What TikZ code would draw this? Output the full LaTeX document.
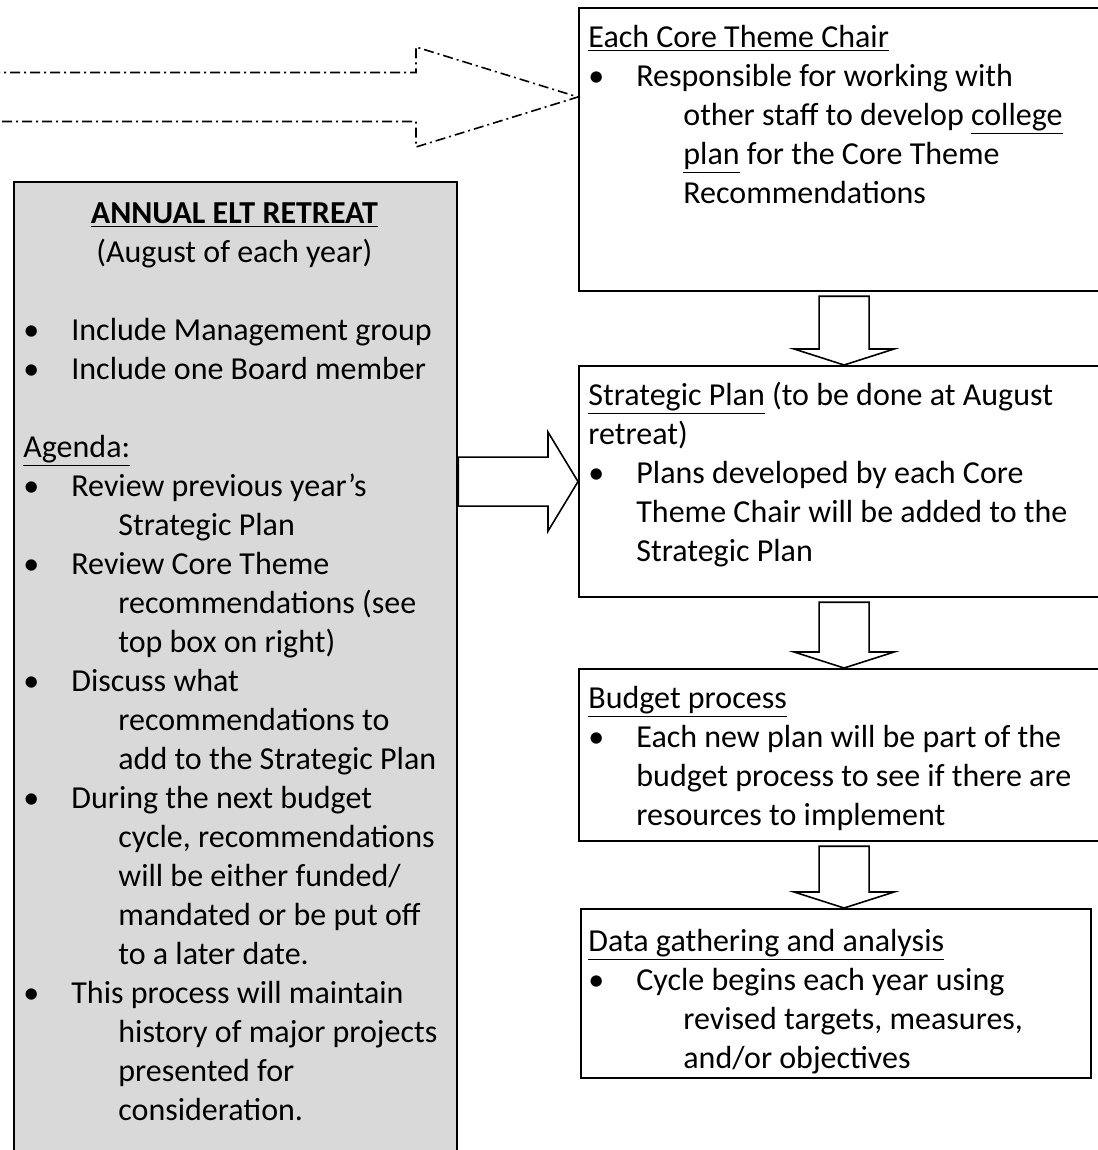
\documentclass[tikz,border=0pt]{standalone}
\usepackage{fontspec}
\setmainfont{Carlito}
\usetikzlibrary{calc}
\definecolor{retreatgrey}{HTML}{D9D9D9}
\tikzset{
  box/.style={draw, line width=1.1pt, rectangle, inner sep=0pt, anchor=north west},
  boxtext/.style={anchor=north west, inner sep=0pt, align=left, font=\fontsize{16}{19.5}\selectfont},
  blockarrow/.style={draw, fill=white, line width=0.8pt, line join=miter},
  dasharrow/.style={line width=0.8pt, dash pattern=on 5pt off 2pt on 1pt off 2pt},
}
% one bullet line, a hanging line, a line level with the bullet text
\newcommand{\bitem}[1]{\strut\makebox[24pt][l]{\textbullet}#1}
\newcommand{\contline}[1]{\strut\hspace{47.5pt}#1}
\newcommand{\sameline}[1]{\strut\hspace{24pt}#1}
% hollow arrow pointing down from one box to the next
\newcommand{\downblock}[2]{%
  \draw[blockarrow] let \p1=(#1.south), \p2=(#2.north) in
    (\x1-12.5pt,\y1-2pt) -- (\x1+12.5pt,\y1-2pt) -- (\x1+12.5pt,\y2+8pt)
    -- (\x1+25pt,\y2+8pt) -- (\x1,\y2) -- (\x1-25pt,\y2+8pt)
    -- (\x1-12.5pt,\y2+8pt) -- cycle;}

\begin{document}
\begin{tikzpicture}[x=0.5pt, y=-0.5pt]
    \useasboundingbox (0,0) rectangle (1097,1150);

    % Boxes
    \node[box, fill=retreatgrey, minimum width=221.5pt, minimum height=494.5pt] (retreat) at (13,181) {};
    \node[box, minimum width=265pt, minimum height=141.5pt] (chair) at (578,7) {};
    \node[box, minimum width=265pt, minimum height=115.5pt] (plan) at (578,365) {};
    \node[box, minimum width=265pt, minimum height=86pt] (budget) at (578,668) {};
    \node[box, minimum width=255pt, minimum height=84.5pt] (data) at (580,908) {};

    % Texts
    \node[boxtext] (retreattext) at ($(retreat.north west)+(10,14.7)$) {%
        \strut\makebox[211pt]{\textbf{\underline{ANNUAL ELT RETREAT}}}\\
        \strut\makebox[211pt]{(August of each year)}\\
        \strut\\
        \bitem{Include Management group}\\
        \bitem{Include one Board member}\\
        \strut\\
        \strut\underline{Agenda:}\\
        \bitem{Review previous year’s}\\
        \contline{Strategic Plan}\\
        \bitem{Review Core Theme}\\
        \contline{recommendations (see}\\
        \contline{top box on right)}\\
        \bitem{Discuss what}\\
        \contline{recommendations to}\\
        \contline{add to the Strategic Plan}\\
        \bitem{During the next budget}\\
        \contline{cycle, recommendations}\\
        \contline{will be either funded/}\\
        \contline{mandated or be put off}\\
        \contline{to a later date.}\\
        \bitem{This process will maintain}\\
        \contline{history of major projects}\\
        \contline{presented for}\\
        \contline{consideration.}};
    \node[boxtext] (chairtext) at ($(chair.north west)+(10,12.7)$) {%
        \strut\underline{Each Core Theme Chair}\\
        \bitem{Responsible for working with}\\
        \contline{other staff to develop \underline{college}}\\
        \contline{\underline{plan} for the Core Theme}\\
        \contline{Recommendations}};
    \node[boxtext] (plantext) at ($(plan.north west)+(10,12.7)$) {%
        \strut\underline{Strategic Plan} (to be done at August\\
        \strut retreat)\\
        \bitem{Plans developed by each Core}\\
        \sameline{Theme Chair will be added to the}\\
        \sameline{Strategic Plan}};
    \node[boxtext] (budgettext) at ($(budget.north west)+(10,12.7)$) {%
        \strut\underline{Budget process}\\
        \bitem{Each new plan will be part of the}\\
        \sameline{budget process to see if there are}\\
        \sameline{resources to implement}};
    \node[boxtext] (datatext) at ($(data.north west)+(8,15.7)$) {%
        \strut\underline{Data gathering and analysis}\\
        \bitem{Cycle begins each year using}\\
        \contline{revised targets, measures,}\\
        \contline{and/or objectives}};

    % Hollow arrows down the right column
    \downblock{chair}{plan}
    \downblock{plan}{budget}
    \downblock{budget}{data}

    % Retreat feeds the strategic plan
    \draw[blockarrow] let \p1=(retreat.east), \p2=(plan.west) in
        (\x1,\y2+12.25pt) -- (\x2-15pt,\y2+12.25pt) -- (\x2-15pt,\y2+24.75pt)
        -- (\x2,\y2) -- (\x2-15pt,\y2-24.75pt) -- (\x2-15pt,\y2-12.25pt)
        -- (\x1,\y2-12.25pt) -- cycle;

    % Dash-dot arrow coming in from the left
    \coordinate (dashtail) at (-10,97);
    \coordinate (dashtip) at ($(chair.north west)+(0,90)$);
    \draw[dasharrow] let \p1=(dashtip), \p2=(dashtail) in
        (\x2,\y1+12.25pt) -- (\x1-81pt,\y1+12.25pt) -- (\x1-81pt,\y1+25pt)
        -- (\p1) -- (\x1-81pt,\y1-25pt) -- (\x1-81pt,\y1-12.25pt) -- (\x2,\y1-12.25pt);
\end{tikzpicture}
\end{document}
